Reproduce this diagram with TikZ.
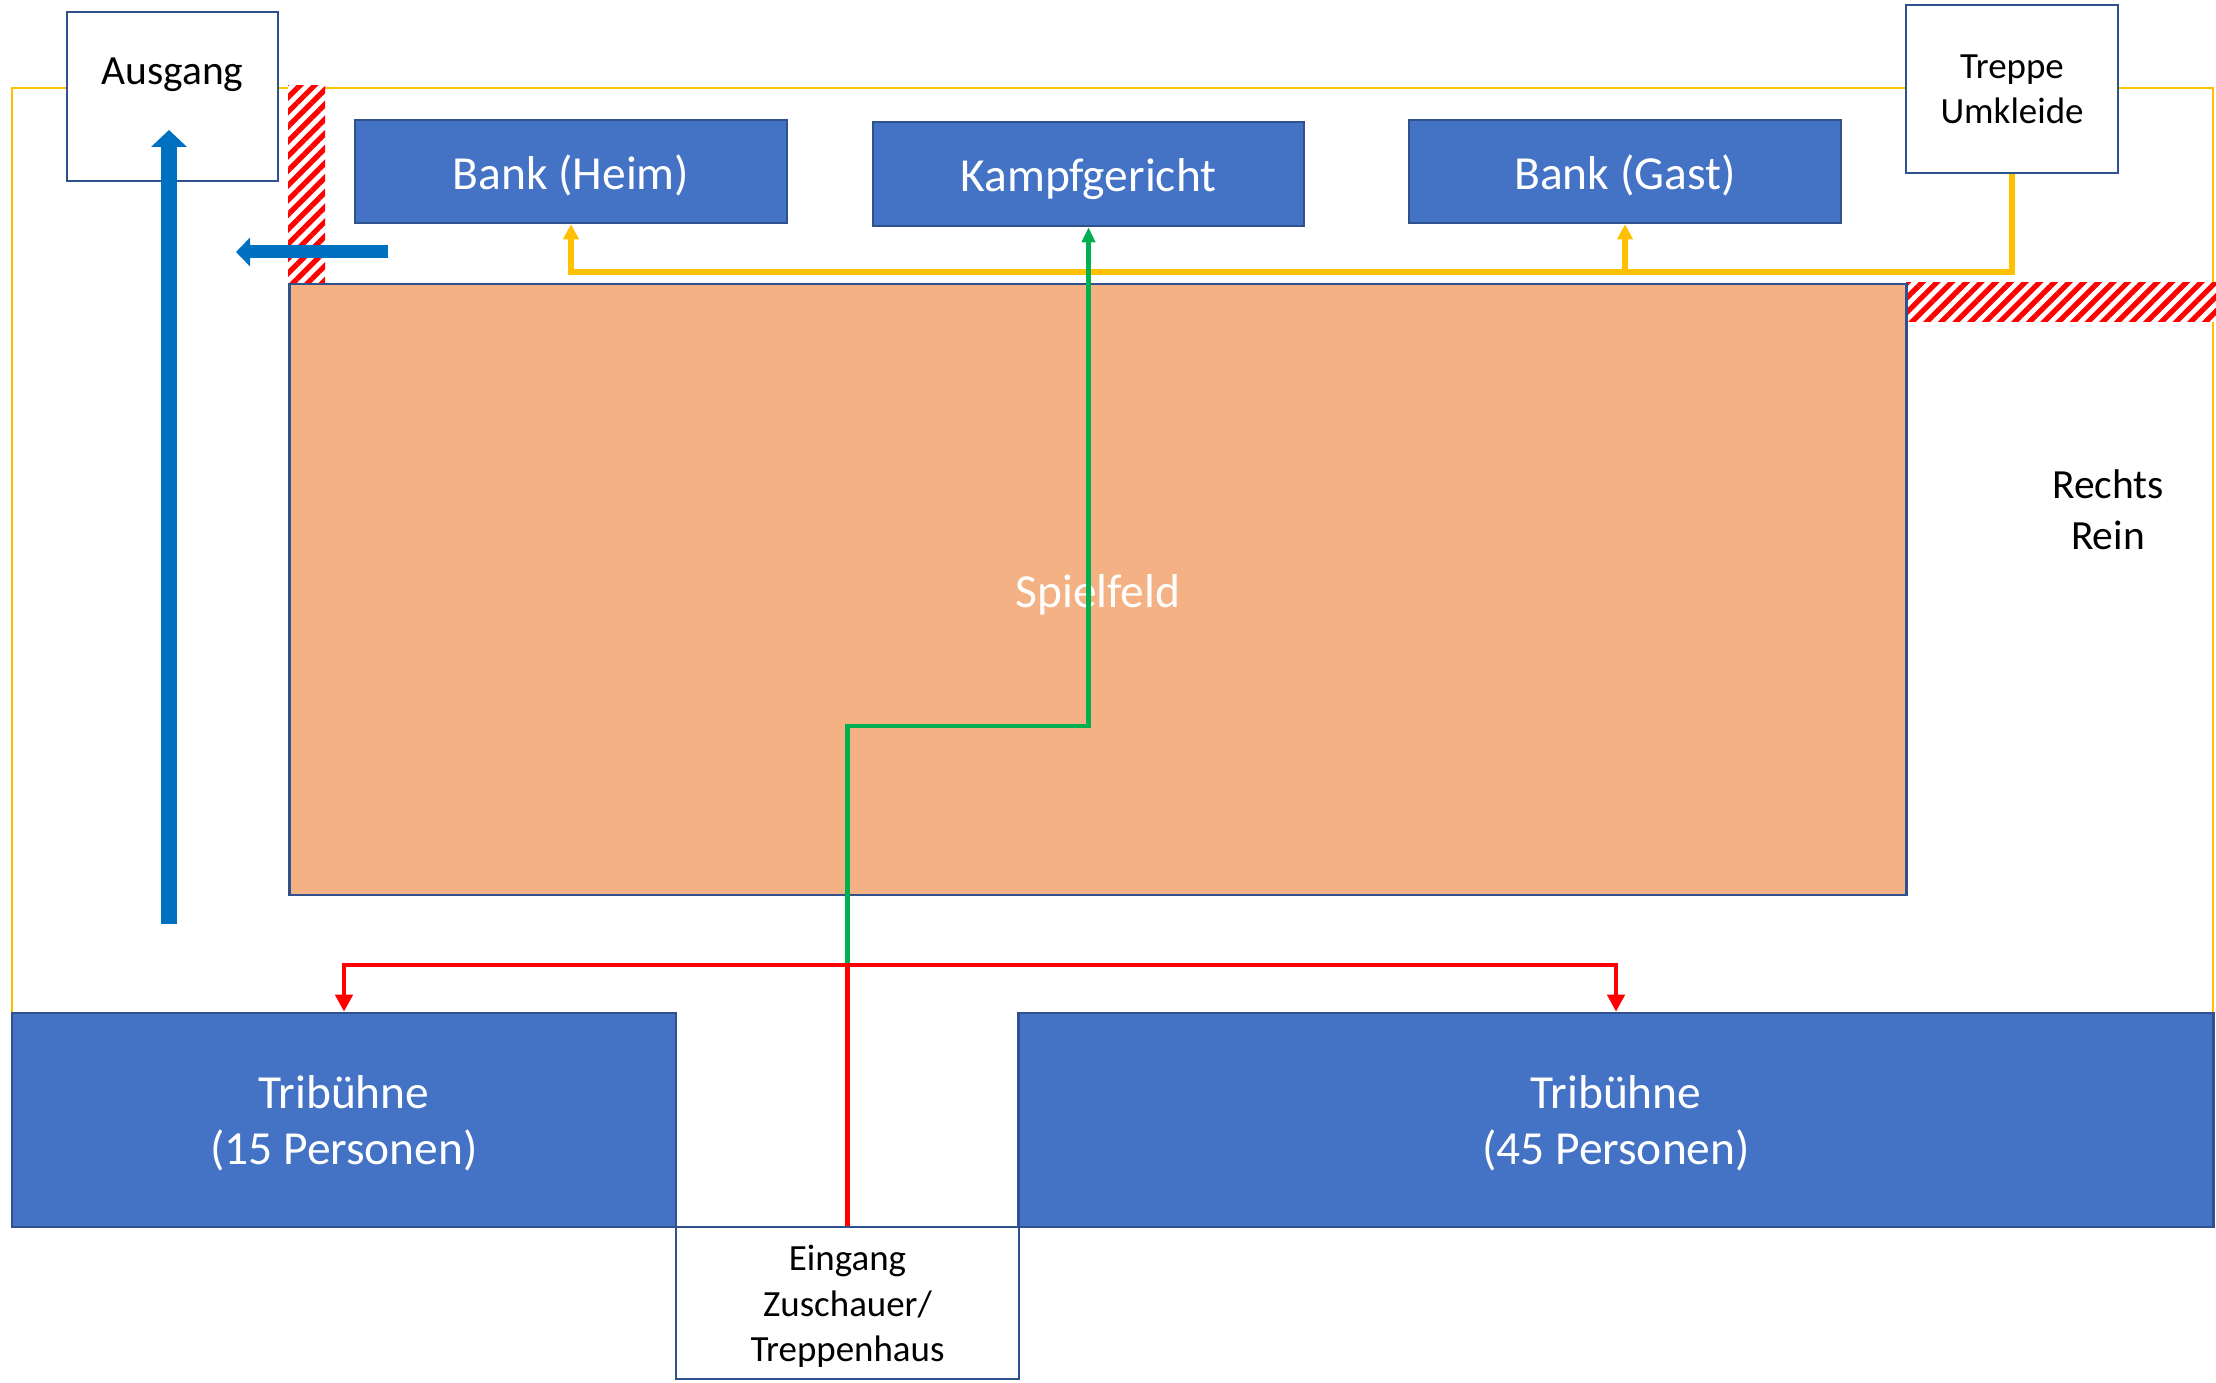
\documentclass[tikz,border=0pt]{standalone}
\usepackage{fontspec}
\setmainfont{Carlito}
\usetikzlibrary{arrows.meta,patterns.meta}
\definecolor{boxblue}{HTML}{4472C4}
\definecolor{edgeblue}{HTML}{2F528F}
\definecolor{fieldorange}{HTML}{F4B183}
\definecolor{routeyellow}{HTML}{FFC000}
\definecolor{routegreen}{HTML}{00B050}
\definecolor{routered}{HTML}{FF0000}
\definecolor{exitblue}{HTML}{0070C0}
\begin{document}
\begin{tikzpicture}[x=0.01cm,y=-0.01cm,
  bluebox/.style={rectangle,draw=edgeblue,fill=boxblue,line width=0.7pt,text=white,align=center,inner sep=0pt,font=\fontsize{13.5}{16}\selectfont},
  oneline/.style={text height=0.46cm,text depth=0.1cm},
  whitebox/.style={rectangle,draw=edgeblue,fill=white,line width=0.7pt,align=center,inner sep=0pt,font=\fontsize{10.5}{12.9}\selectfont},
  hatchstrip/.style={fill=white,postaction={pattern={Lines[angle=45,distance=2.95pt,line width=1.5pt]},pattern color=routered}},
  yroute/.style={routeyellow,line width=1.7pt,-{Triangle[width=0.15cm,length=0.15cm]}},
  groute/.style={routegreen,line width=1.3pt,-{Triangle[width=0.13cm,length=0.15cm]}},
  rroute/.style={routered,line width=1.4pt,-{Triangle[width=0.17cm,length=0.17cm]}},
  exitarrow/.style={exitblue,line width=#1}]
\useasboundingbox (0,0) rectangle (2216,1383);
% Hallenrand
\draw[routeyellow,line width=0.6pt] (12,1013) -- (12,88) -- (2213,88) -- (2213,1013);
\path[hatchstrip] (288,86) rectangle (325,283);
\path[hatchstrip] (1906,283) rectangle (2216,322);
\node[whitebox,minimum width=2.11cm,minimum height=1.69cm,text height=0.3cm,text depth=0.53cm,font=\fontsize{11.8}{14}\selectfont] (ausgang) at (172.5,96.5) {Ausgang};
\node[whitebox,minimum width=2.12cm,minimum height=1.68cm] (treppe) at (2012,89) {Treppe\\Umkleide};
\node[bluebox,oneline,minimum width=4.32cm,minimum height=1.03cm] (bankheim) at (571,171.5) {Bank (Heim)};
\node[bluebox,oneline,minimum width=4.31cm,minimum height=1.04cm] (kampf) at (1088.5,174) {Kampfgericht};
\node[bluebox,oneline,minimum width=4.32cm,minimum height=1.03cm] (bankgast) at (1625,171.5) {Bank (Gast)};
\node[bluebox,oneline,fill=fieldorange,minimum width=16.16cm,minimum height=6.11cm] (spielfeld) at (1098,589.5) {Spielfeld};
\node[bluebox,minimum width=6.64cm,minimum height=2.14cm,text height=0.96cm] (trib15) at (344,1120) {Tribühne\\(15 Personen)};
\node[bluebox,minimum width=11.94cm,minimum height=2.14cm,text height=0.96cm] (trib45) at (1616,1120) {Tribühne\\(45 Personen)};
\node[whitebox,minimum width=3.43cm,minimum height=1.52cm,text height=1.23cm] (eingang) at (847.5,1303) {Eingang\\Zuschauer/\\Treppenhaus};
\node[align=center,font=\fontsize{11.8}{14.5}\selectfont] (rechtsrein) at (2108,510) {Rechts\\Rein};
\coordinate (ybend) at (2012,272);
\coordinate (junction) at (847.5,965);
\coordinate (gbend) at (847.5,726);
\coordinate (ausstart) at (169,924);
\coordinate (austip) at (169,130);
\coordinate (leftstart) at (388,252);
\coordinate (lefttip) at (236,252);
\draw[yroute] (treppe.south) -- (ybend) -| (bankheim.south);
\draw[yroute] (bankgast.south |- ybend) -- (bankgast.south);
\draw[groute] (junction) -- (gbend) -| (kampf.south);
\draw[rroute,-] (eingang.north) -- (junction);
\draw[rroute] (junction) -| (trib15.north); \draw[rroute] (junction) -| (trib45.north);
\draw[exitarrow=4.8pt,-{Triangle[width=0.35cm,length=0.17cm]}] (ausstart) -- (austip);
\draw[exitarrow=3.7pt,-{Triangle[width=0.28cm,length=0.14cm]}] (leftstart) -- (lefttip);
\end{tikzpicture}
\end{document}
